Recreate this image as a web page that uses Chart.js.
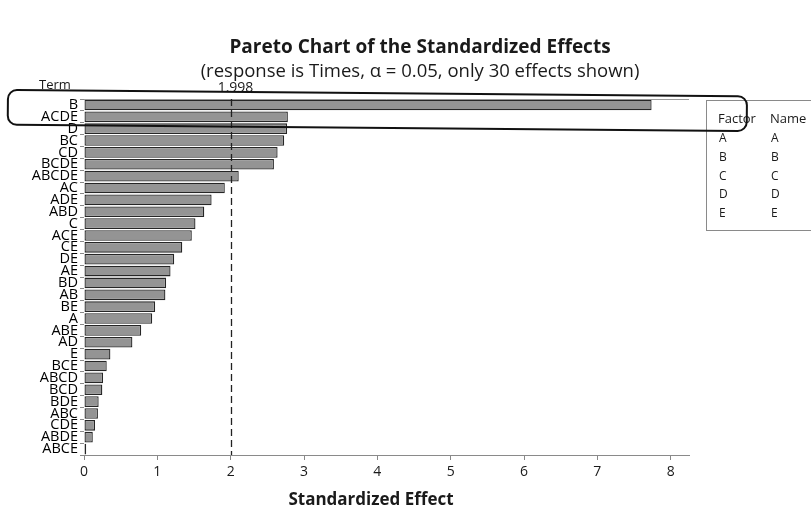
<!DOCTYPE html>
<html>
<head>
<meta charset="utf-8">
<script src="https://cdn.jsdelivr.net/npm/chart.js@4.4.1/dist/chart.umd.min.js"></script>
<style>
  html, body { margin: 0; padding: 0; background: #ffffff; }
  #wrap { width: 811px; height: 513px; position: relative; }
</style>
</head>
<body>
<div id="wrap"><canvas id="pareto" width="811" height="513"></canvas></div>
<script>
// Terms in Pareto order (largest standardized effect first)
const terms = ['B', 'ACDE', 'D', 'BC', 'CD', 'BCDE', 'ABCDE', 'AC', 'ADE', 'ABD',
               'C', 'ACE', 'CE', 'DE', 'AE', 'BD', 'AB', 'BE', 'A', 'ABE',
               'AD', 'E', 'BCE', 'ABCD', 'BCD', 'BDE', 'ABC', 'CDE', 'ABDE', 'ABCE'];
// Absolute standardized effect for each term
const effects = [7.74, 2.78, 2.77, 2.73, 2.64, 2.59, 2.11, 1.92, 1.74, 1.64,
                 1.52, 1.47, 1.34, 1.23, 1.18, 1.12, 1.11, 0.97, 0.93, 0.78,
                 0.66, 0.36, 0.31, 0.26, 0.25, 0.20, 0.19, 0.15, 0.12, 0.03];
const xTicks = [0, 1, 2, 3, 4, 5, 6, 7, 8];
// Critical t value for alpha = 0.05
const refValue = 1.998;
const refLabel = '1.998';
const factorCodes = ['A', 'B', 'C', 'D', 'E'];
const factorNames = ['A', 'B', 'C', 'D', 'E'];

const FONT = '"Open Sans", "Noto Sans", "DejaVu Sans", sans-serif';

const decorations = {
  id: 'decorations',
  afterDraw(chart) {
    const ctx = chart.ctx;
    const area = chart.chartArea;
    const xs = chart.scales.x;
    const ys = chart.scales.y;
    ctx.save();

    // Titles
    ctx.fillStyle = '#1a1a1a';
    ctx.textAlign = 'center';
    ctx.textBaseline = 'middle';
    ctx.font = 'bold 19px ' + FONT;
    ctx.fillText('Pareto Chart of the Standardized Effects', 420, 48);
    ctx.font = '18.5px ' + FONT;
    ctx.fillText('(response is Times, \u03B1 = 0.05, only 30 effects shown)', 420, 72);

    // Axis captions
    ctx.font = 'bold 17px ' + FONT;
    ctx.fillText('Standardized Effect', 371, 500);
    ctx.font = '13px ' + FONT;
    ctx.fillText('Term', 55, 85);

    // Top frame line of the plot region
    ctx.strokeStyle = '#9a9a9a';
    ctx.lineWidth = 1;
    ctx.beginPath();
    ctx.moveTo(area.left, area.top + 0.5);
    ctx.lineTo(area.right, area.top + 0.5);
    ctx.stroke();

    // Reference line at the critical value
    const rx = Math.round(xs.getPixelForValue(refValue)) + 0.5;
    ctx.strokeStyle = '#222222';
    ctx.lineWidth = 1.3;
    ctx.setLineDash([7, 4]);
    ctx.beginPath();
    ctx.moveTo(rx, area.top);
    ctx.lineTo(rx, area.bottom);
    ctx.stroke();
    ctx.setLineDash([]);
    ctx.fillStyle = '#1a1a1a';
    ctx.font = '14px ' + FONT;
    ctx.fillText(refLabel, rx + 4, 88);

    // Factor / name key
    const kx = 706, ky = 100, kh = 130;
    ctx.strokeStyle = '#8a8a8a';
    ctx.lineWidth = 1;
    ctx.strokeRect(kx + 0.5, ky + 0.5, 130, kh);
    ctx.textAlign = 'left';
    ctx.font = '13px ' + FONT;
    ctx.fillText('Factor', 718, 119);
    ctx.fillText('Name', 770, 119);
    ctx.font = '12px ' + FONT;
    factorCodes.forEach((f, i) => {
      const yy = 139 + i * 18.6;
      ctx.fillText(f, 719, yy);
      ctx.fillText(factorNames[i], 771, yy);
    });

    // Highlight around the two leading terms
    const step = ys.getPixelForValue(1) - ys.getPixelForValue(0);
    const top = ys.getPixelForValue(0) - step / 2 - 9;
    const bottom = ys.getPixelForValue(1) + step / 2 + 2;
    ctx.translate(8, top);
    ctx.rotate(0.0085);
    ctx.strokeStyle = '#111111';
    ctx.lineWidth = 2;
    ctx.beginPath();
    ctx.roundRect(0, 0, 739, bottom - top, 9);
    ctx.stroke();

    ctx.restore();
  }
};

new Chart(document.getElementById('pareto'), {
  type: 'bar',
  data: {
    labels: terms,
    datasets: [{
      data: effects,
      backgroundColor: '#949494',
      borderColor: '#262626',
      borderWidth: 1.3,
      borderSkipped: false,
      barPercentage: 0.9,
      categoryPercentage: 1.0
    }]
  },
  options: {
    indexAxis: 'y',
    responsive: false,
    animation: false,
    layout: { padding: { top: 99, right: 122, bottom: 0, left: 0 } },
    plugins: {
      legend: { display: false },
      tooltip: { enabled: false },
      title: { display: false }
    },
    scales: {
      x: {
        type: 'linear',
        min: 0,
        max: 8.25,
        afterBuildTicks: (s) => { s.ticks = xTicks.map(v => ({ value: v })); },
        afterFit: (s) => { s.height = 58; },
        ticks: { color: '#1a1a1a', font: { family: FONT, size: 14 }, padding: 4 },
        grid: { drawOnChartArea: false, tickLength: 5, color: '#888888' },
        border: { color: '#8a8a8a', width: 1 }
      },
      y: {
        afterFit: (s) => { s.width = 84; },
        ticks: { color: '#000000', font: { family: FONT, size: 14.5 }, padding: 2, autoSkip: false },
        grid: { drawOnChartArea: false, tickLength: 4, color: '#888888' },
        border: { display: false }
      }
    }
  },
  plugins: [decorations]
});
</script>
</body>
</html>
